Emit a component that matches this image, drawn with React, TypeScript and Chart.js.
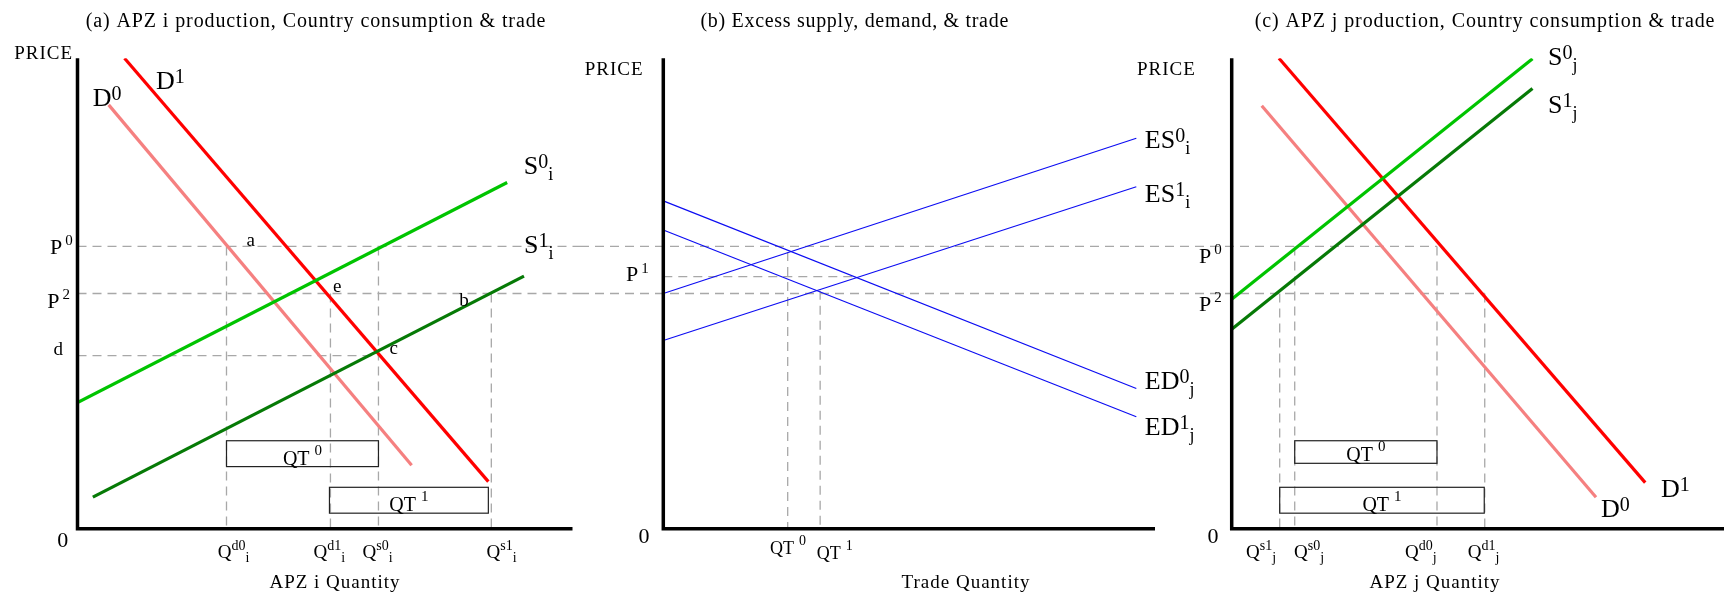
import React, { useEffect, useRef } from 'react';
import { Chart, registerables } from 'chart.js';

Chart.register(...registerables);

const FONT = '"Liberation Serif", "Times New Roman", Times, serif';
const H = 600;

// ---------------- shared price levels (price axis 0-100) ----------------
const P0 = 60;
const P2 = 50;
const P1 = 53.6;
const PD = 36.8;

// ---------------- panel (a): APZ i ----------------
const aDemand0 = [{ x: 6.3, y: 90.1 }, { x: 67.5, y: 13.5 }];
const aDemand1 = [{ x: 9.5, y: 100 }, { x: 83.0, y: 10.0 }];
const aSupply0 = [{ x: 0, y: 26.8 }, { x: 86.8, y: 73.6 }];
const aSupply1 = [{ x: 3.1, y: 6.7 }, { x: 90.2, y: 53.7 }];
const aQuantities = [30.1, 51.1, 60.8, 83.6]; // Qd0_i, Qd1_i, Qs0_i, Qs1_i
const aQuantityTops = [P0, P2, P0, P2];
const aQuantitySup = ['d0', 'd1', 's0', 's1'];
const aBoxes: [number, number, number, number, string][] = [
  [30.1, 60.8, 13.2, 18.7, '0'],
  [50.9, 83.0, 3.3, 8.8, '1'],
];

// ---------------- panel (b): excess supply / demand ----------------
const bES0 = [{ x: 0, y: 50 }, { x: 96.2, y: 83.0 }];
const bES1 = [{ x: 0, y: 40 }, { x: 96.2, y: 72.7 }];
const bED0 = [{ x: 0, y: 69.7 }, { x: 96.2, y: 29.8 }];
const bED1 = [{ x: 0, y: 63.5 }, { x: 96.2, y: 23.8 }];
const bTradeQ = [25.3, 31.9]; // QT0, QT1
const bTradeTops = [58.8, 50.6];
const bP1End = 39.3;

// ---------------- panel (c): APZ j ----------------
const cDemand0 = [{ x: 6.1, y: 89.9 }, { x: 74.0, y: 6.7 }];
const cDemand1 = [{ x: 9.6, y: 100 }, { x: 84.0, y: 9.8 }];
const cSupply0 = [{ x: 0, y: 48.8 }, { x: 61.1, y: 99.9 }];
const cSupply1 = [{ x: 0, y: 42.4 }, { x: 61.1, y: 93.6 }];
const cQuantities = [9.75, 12.8, 41.7, 51.4]; // Qs1_j, Qs0_j, Qd0_j, Qd1_j
const cQuantityTops = [P2, P0, P0, P2];
const cQuantitySup = ['s1', 's0', 'd0', 'd1'];
const cBoxes: [number, number, number, number, string][] = [
  [12.8, 41.7, 13.9, 18.7, '0'],
  [9.75, 51.3, 3.3, 8.8, '1'],
];

// ---------------- styles ----------------
const RED = '#ff0000';
const PINK = '#f58080';
const GREEN = '#00c400';
const DKGREEN = '#067a06';
const BLUE = '#0c0cf2';
const GUIDE = '#a8a8a8';

type Seg = [string, number, number, number?];

function rich(ctx: CanvasRenderingContext2D, x: number, y: number, segs: Seg[], align: 'left' | 'center' | 'right' = 'left', ls = 0) {
  ctx.save();
  ctx.fillStyle = '#000';
  ctx.textBaseline = 'alphabetic';
  ctx.textAlign = 'left';
  (ctx as any).letterSpacing = ls + 'px';
  const widths = segs.map(([t, s, , g]) => {
    ctx.font = `${s}px ${FONT}`;
    return ctx.measureText(t).width + (g || 0);
  });
  const total = widths.reduce((a, b) => a + b, 0);
  let cx = align === 'left' ? x : align === 'center' ? x - total / 2 : x - total;
  segs.forEach(([t, s, dy, g], i) => {
    ctx.font = `${s}px ${FONT}`;
    ctx.fillText(t, cx + (g || 0), y + dy);
    cx += widths[i];
  });
  ctx.restore();
}

function dashLine(ctx: CanvasRenderingContext2D, x1: number, y1: number, x2: number, y2: number) {
  ctx.save();
  ctx.strokeStyle = GUIDE;
  ctx.lineWidth = 1.3;
  ctx.setLineDash([9, 6]);
  ctx.beginPath();
  ctx.moveTo(x1, y1);
  ctx.lineTo(x2, y2);
  ctx.stroke();
  ctx.restore();
}

const sx = (c: any) => (v: number) => c.scales.x.getPixelForValue(v);
const sy = (c: any) => (v: number) => c.scales.y.getPixelForValue(v);

function drawAxes(chart: any, xEnd: number) {
  const { ctx } = chart;
  const X = sx(chart), Y = sy(chart);
  ctx.save();
  ctx.strokeStyle = '#000';
  ctx.lineWidth = 3.5;
  ctx.lineJoin = 'miter';
  ctx.beginPath();
  ctx.moveTo(X(0), Y(100));
  ctx.lineTo(X(0), Y(0));
  ctx.lineTo(xEnd, Y(0));
  ctx.stroke();
  ctx.restore();
}

function drawBox(chart: any, b: [number, number, number, number, string]) {
  const { ctx } = chart;
  const X = sx(chart), Y = sy(chart);
  const l = X(b[0]), r = X(b[1]), t = Y(b[3]), bt = Y(b[2]);
  ctx.save();
  ctx.strokeStyle = '#222';
  ctx.lineWidth = 1.2;
  ctx.strokeRect(l, t, r - l, bt - t);
  ctx.restore();
  rich(ctx, (l + r) / 2, bt - 2, [['QT', 20, 0], [b[4], 15, -10, 5]], 'center');
}

function seg(data: { x: number; y: number }[], color: string, width: number) {
  return {
    data,
    borderColor: color,
    backgroundColor: color,
    borderWidth: width,
    showLine: true,
    pointRadius: 0,
    fill: false,
    tension: 0,
    borderCapStyle: 'butt',
  };
}

function options(pad: { left: number; right: number; top: number; bottom: number }) {
  return {
    animation: false,
    responsive: false,
    maintainAspectRatio: false,
    events: [],
    layout: { padding: pad },
    plugins: { legend: { display: false }, tooltip: { enabled: false }, title: { display: false } },
    scales: {
      x: { type: 'linear', min: 0, max: 100, display: false },
      y: { type: 'linear', min: 0, max: 100, display: false },
    },
  };
}

const PAD_TOP = 58.3;
const PAD_BOTTOM = H - 528.7;

// ---------------- panel configs ----------------
function configA() {
  const plug = {
    id: 'panelA',
    beforeDatasetsDraw(chart: any) {
      const { ctx } = chart;
      const X = sx(chart), Y = sy(chart);
      dashLine(ctx, X(0), Y(P0), chart.width, Y(P0));
      dashLine(ctx, X(0), Y(P2), chart.width, Y(P2));
      dashLine(ctx, X(0), Y(PD), X(aQuantities[2]), Y(PD));
      aQuantities.forEach((q, i) => dashLine(ctx, X(q), Y(aQuantityTops[i]), X(q), Y(0)));
    },
    afterDatasetsDraw(chart: any) {
      const { ctx } = chart;
      const X = sx(chart), Y = sy(chart);
      drawAxes(chart, X(100));
      aBoxes.forEach((b) => drawBox(chart, b));
      rich(ctx, 316, 27, [['(a) APZ i production, Country consumption & trade', 20, 0]], 'center', 0.9);
      rich(ctx, 73, 59, [['PRICE', 19, 0]], 'right', 1);
      rich(ctx, 62.7, 546.7, [['0', 22, 0]], 'center');
      rich(ctx, X(0) - 4.8, Y(P0) + 8, [['P', 22, 0], ['0', 15, -9, 3]], 'right');
      rich(ctx, X(0) - 7.5, Y(P2) + 14, [['P', 22, 0], ['2', 15, -9, 3]], 'right');
      rich(ctx, X(0) - 14.5, Y(PD) - 0.7, [['d', 19, 0]], 'right');
      // curve labels
      rich(ctx, X(aDemand1[0].x) + 31.5, Y(aDemand1[0].y) + 30.7, [['D', 26, 0], ['1', 20, -6]]);
      rich(ctx, X(aDemand0[0].x) - 16, Y(aDemand0[0].y) + 1.6, [['D', 26, 0], ['0', 20, -6]]);
      rich(ctx, X(aSupply0[1].x) + 16.6, Y(aSupply0[1].y) - 8, [['S', 26, 0], ['0', 20, -6], ['i', 18, 6]]);
      rich(ctx, X(aSupply1[1].x), Y(aSupply1[1].y) - 23, [['S', 26, 0], ['1', 20, -6], ['i', 18, 6]]);
      // point labels
      rich(ctx, X(aQuantities[0]) + 20, Y(P0), [['a', 19, 0]]);
      rich(ctx, X(aQuantities[1]) + 2.5, Y(P2) - 2, [['e', 19, 0]]);
      rich(ctx, X(aQuantities[2]) + 11, Y(PD) - 2, [['c', 19, 0]]);
      rich(ctx, X(aQuantities[3]) - 32, Y(P2) + 12, [['b', 19, 0]]);
      // tick labels
      const dxs = [-8.7, -17, -16, -4.7];
      aQuantities.forEach((q, i) =>
        rich(ctx, X(q) + dxs[i], 557.5, [['Q', 19, 0], [aQuantitySup[i], 14, -7.5], ['i', 14, 4.5]])
      );
      rich(ctx, 335, 588, [['APZ i Quantity', 19, 0]], 'center', 1);
    },
  };
  return {
    type: 'scatter',
    data: {
      datasets: [
        seg(aSupply1, DKGREEN, 3.2),
        seg(aSupply0, GREEN, 3.2),
        seg(aDemand0, PINK, 3.2),
        seg(aDemand1, RED, 3.2),
      ],
    },
    options: options({ left: 77.5, right: 580 - 572.5, top: PAD_TOP, bottom: PAD_BOTTOM }),
    plugins: [plug],
  };
}

const B_WIDTH = 620;
const B_GUIDE_END = 600;

function configB() {
  const plug = {
    id: 'panelB',
    beforeDatasetsDraw(chart: any) {
      const { ctx } = chart;
      const X = sx(chart), Y = sy(chart);
      dashLine(ctx, 0, Y(P0), B_GUIDE_END, Y(P0));
      dashLine(ctx, 0, Y(P2), B_GUIDE_END, Y(P2));
      dashLine(ctx, X(0), Y(P1), X(bP1End), Y(P1));
      bTradeQ.forEach((q, i) => dashLine(ctx, X(q), Y(bTradeTops[i]), X(q), Y(0)));
    },
    afterDatasetsDraw(chart: any) {
      const { ctx } = chart;
      const X = sx(chart), Y = sy(chart);
      drawAxes(chart, X(100));
      rich(ctx, 274.7, 27, [['(b) Excess supply, demand, & trade', 20, 0]], 'center', 0.7);
      rich(ctx, 63.5, 75, [['PRICE', 19, 0]], 'right', 1);
      rich(ctx, 557, 75, [['PRICE', 19, 0]], 'left', 1);
      rich(ctx, 64, 543, [['0', 22, 0]], 'center');
      rich(ctx, X(0) - 14.5, Y(P1) + 4.3, [['P', 22, 0], ['1', 15, -8, 3]], 'right');
      const ends = [bES0[1], bES1[1], bED0[1], bED1[1]];
      const dys = [10, 15, 0, 18];
      const names: Seg[][] = [
        [['ES', 26, 0], ['0', 20, -6], ['i', 18, 6]],
        [['ES', 26, 0], ['1', 20, -6], ['i', 18, 6]],
        [['ED', 26, 0], ['0', 20, -6], ['j', 18, 6]],
        [['ED', 26, 0], ['1', 20, -6], ['j', 18, 6]],
      ];
      ends.forEach((p, i) => rich(ctx, X(p.x) + 8.5, Y(p.y) + dys[i], names[i]));
      rich(ctx, X(bTradeQ[0]) - 17.7, 554, [['QT', 18, 0], ['0', 14, -9, 5]]);
      rich(ctx, X(bTradeQ[1]) - 3.3, 559, [['QT', 18, 0], ['1', 14, -9, 5]]);
      rich(ctx, 386, 588, [['Trade Quantity', 19, 0]], 'center', 1);
    },
  };
  return {
    type: 'scatter',
    data: {
      datasets: [seg(bES0, BLUE, 1.2), seg(bES1, BLUE, 1.2), seg(bED0, BLUE, 1.2), seg(bED1, BLUE, 1.2)],
    },
    options: options({ left: 83.3, right: B_WIDTH - 575, top: PAD_TOP, bottom: PAD_BOTTOM }),
    plugins: [plug],
  };
}

function configC() {
  const plug = {
    id: 'panelC',
    beforeDatasetsDraw(chart: any) {
      const { ctx } = chart;
      const X = sx(chart), Y = sy(chart);
      dashLine(ctx, 0, Y(P0), X(cQuantities[2]), Y(P0));
      dashLine(ctx, 0, Y(P2), X(cQuantities[3]), Y(P2));
      cQuantities.forEach((q, i) => dashLine(ctx, X(q), Y(cQuantityTops[i]), X(q), Y(0)));
    },
    afterDatasetsDraw(chart: any) {
      const { ctx } = chart;
      const X = sx(chart), Y = sy(chart);
      drawAxes(chart, chart.width);
      cBoxes.forEach((b) => drawBox(chart, b));
      rich(ctx, 305, 27, [['(c) APZ j production, Country consumption & trade', 20, 0]], 'center', 0.9);
      rich(ctx, 33, 543, [['0', 22, 0]], 'center');
      rich(ctx, X(0) - 10, Y(P0) + 17, [['P', 22, 0], ['0', 15, -9, 3]], 'right');
      rich(ctx, X(0) - 10, Y(P2) + 17, [['P', 22, 0], ['2', 15, -9, 3]], 'right');
      rich(ctx, X(cSupply0[1].x) + 15.6, Y(cSupply0[1].y) + 6, [['S', 26, 0], ['0', 20, -6], ['j', 18, 6]]);
      rich(ctx, X(cSupply1[1].x) + 15.6, Y(cSupply1[1].y) + 25, [['S', 26, 0], ['1', 20, -6], ['j', 18, 6]]);
      rich(ctx, X(cDemand1[1].x) + 15.7, Y(cDemand1[1].y) + 14, [['D', 26, 0], ['1', 20, -6]]);
      rich(ctx, X(cDemand0[1].x) + 5, Y(cDemand0[1].y) + 20, [['D', 26, 0], ['0', 20, -6]]);
      const dxs = [-33.7, -0.6, -32, -17];
      cQuantities.forEach((q, i) =>
        rich(ctx, X(q) + dxs[i], 557.5, [['Q', 19, 0], [cQuantitySup[i], 14, -7.5], ['j', 14, 4.5]])
      );
      rich(ctx, 255, 588, [['APZ j Quantity', 19, 0]], 'center', 1);
    },
  };
  return {
    type: 'scatter',
    data: {
      datasets: [
        seg(cSupply1, DKGREEN, 3.2),
        seg(cSupply0, GREEN, 3.2),
        seg(cDemand0, PINK, 3.2),
        seg(cDemand1, RED, 3.2),
      ],
    },
    options: options({ left: 51.7, right: 0, top: PAD_TOP, bottom: PAD_BOTTOM }),
    plugins: [plug],
  };
}

function ChartCanvas({ left, width, make }: { left: number; width: number; make: () => any }) {
  const ref = useRef<HTMLCanvasElement>(null);
  useEffect(() => {
    const chart = new Chart(ref.current as HTMLCanvasElement, make());
    return () => chart.destroy();
  }, []);
  return (
    <canvas
      ref={ref}
      width={width}
      height={H}
      style={{ position: 'absolute', left, top: 0, width, height: H }}
    />
  );
}

export default function App() {
  return (
    <div style={{ position: 'absolute', left: 0, top: 0, width: 1724, height: H, background: '#fff', overflow: 'hidden' }}>
      <ChartCanvas left={0} width={580} make={configA} />
      <ChartCanvas left={580} width={B_WIDTH} make={configB} />
      <ChartCanvas left={1180} width={544} make={configC} />
    </div>
  );
}
